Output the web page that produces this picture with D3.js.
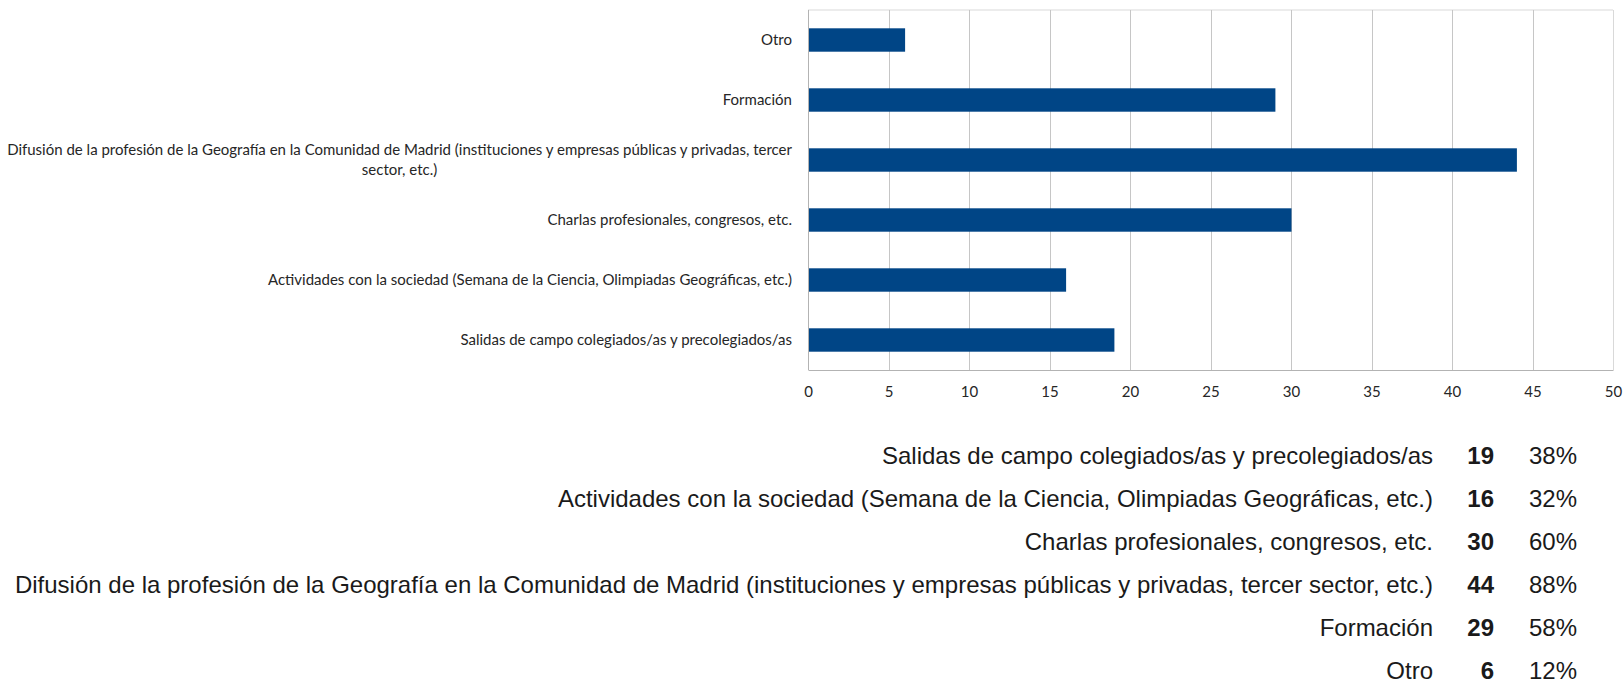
<!DOCTYPE html>
<html>
<head>
<meta charset="utf-8">
<script src="https://cdn.jsdelivr.net/npm/d3@7"></script>
<style>
  html, body { margin: 0; padding: 0; background: #fff; }
  svg { display: block; }
</style>
</head>
<body>
<div id="chart"></div>
<script>
// Categories in survey order (bottom of the bar chart = first item)
const categories = [
  'Salidas de campo colegiados/as y precolegiados/as',
  'Actividades con la sociedad (Semana de la Ciencia, Olimpiadas Geográficas, etc.)',
  'Charlas profesionales, congresos, etc.',
  'Difusión de la profesión de la Geografía en la Comunidad de Madrid (instituciones y empresas públicas y privadas, tercer sector, etc.)',
  'Formación',
  'Otro'
];
const counts = [19, 16, 30, 44, 29, 6];
const percents = ['38%', '32%', '60%', '88%', '58%', '12%'];
const xTicks = [0, 5, 10, 15, 20, 25, 30, 35, 40, 45, 50];

const W = 1624, H = 683;
const plot = { left: 808, right: 1613, top: 10, bottom: 370 };

const svg = d3.select('#chart').append('svg')
  .attr('width', W).attr('height', H)
  .attr('viewBox', `0 0 ${W} ${H}`);

const x = d3.scaleLinear().domain([0, 50]).range([plot.left, plot.right]);
const y = d3.scaleBand()
  .domain(categories.slice().reverse())
  .range([plot.top, plot.bottom])
  .paddingInner(0.61)
  .paddingOuter(0.305);

const labelFont = 'Lato, "Open Sans", sans-serif';
const labelSize = 15;

// plot frame (light) on top
svg.append('line')
  .attr('x1', plot.left).attr('x2', plot.right)
  .attr('y1', plot.top).attr('y2', plot.top)
  .attr('stroke', '#d9d9d9').attr('stroke-width', 1);

// vertical grid lines
const grid = svg.append('g');
grid.selectAll('line').data(xTicks).join('line')
  .attr('x1', d => Math.round(x(d)) + 0.5).attr('x2', d => Math.round(x(d)) + 0.5)
  .attr('y1', plot.top).attr('y2', plot.bottom)
  .attr('stroke', d => d === 50 ? '#d9d9d9' : '#c6c6c6')
  .attr('stroke-width', 1);

// bars
svg.append('g').selectAll('rect').data(categories).join('rect')
  .attr('x', x(0) + 0.5)
  .attr('y', d => y(d))
  .attr('width', (d, i) => x(counts[i]) - x(0))
  .attr('height', y.bandwidth())
  .attr('fill', '#004586');

// bottom axis
const xAxis = svg.append('g')
  .attr('transform', `translate(0,${plot.bottom})`)
  .call(d3.axisBottom(x).tickValues(xTicks).tickSize(0).tickPadding(16).tickFormat(d3.format('d')));
xAxis.select('.domain').attr('stroke', '#b3b3b3');
xAxis.selectAll('text')
  .attr('font-family', labelFont).attr('font-size', labelSize)
  .attr('fill', '#262626');

// left axis line
svg.append('line')
  .attr('x1', plot.left + 0.5).attr('x2', plot.left + 0.5)
  .attr('y1', plot.top).attr('y2', plot.bottom)
  .attr('stroke', '#b3b3b3');

// category labels, wrapped and right aligned next to the axis
const labelRight = plot.left - 16;
const maxLabelW = 790;
const labels = svg.append('g');
categories.forEach(cat => {
  const g = labels.append('g');
  const words = cat.split(' ');
  const lines = [];
  let line = [];
  const probe = g.append('text').attr('font-family', labelFont).attr('font-size', labelSize);
  words.forEach(w => {
    line.push(w);
    probe.text(line.join(' '));
    if (probe.node().getComputedTextLength() > maxLabelW && line.length > 1) {
      line.pop();
      lines.push(line.join(' '));
      line = [w];
    }
  });
  lines.push(line.join(' '));
  probe.remove();

  const cy = y(cat) + y.bandwidth() / 2;
  const lh = 20;
  const t = g.append('text')
    .attr('font-family', labelFont).attr('font-size', labelSize)
    .attr('fill', '#262626').attr('text-anchor', 'middle');
  const spans = lines.map((ln, i) => t.append('tspan')
    .attr('y', cy + 5 + (i - (lines.length - 1) / 2) * lh)
    .text(ln));
  const blockW = d3.max(spans, s => s.node().getComputedTextLength());
  spans.forEach(s => s.attr('x', labelRight - blockW / 2));
});

// summary table below the chart
const table = svg.append('g')
  .attr('font-family', '"Liberation Sans", Arial, sans-serif')
  .attr('font-size', 24)
  .attr('fill', '#1a1a1a');
const rowY = i => 464 + i * 43;
categories.forEach((cat, i) => {
  table.append('text').attr('x', 1433).attr('y', rowY(i))
    .attr('text-anchor', 'end').text(cat);
  table.append('text').attr('x', 1494).attr('y', rowY(i))
    .attr('text-anchor', 'end').attr('font-weight', 'bold').text(counts[i]);
  table.append('text').attr('x', 1577).attr('y', rowY(i))
    .attr('text-anchor', 'end').text(percents[i]);
});
</script>
</body>
</html>
